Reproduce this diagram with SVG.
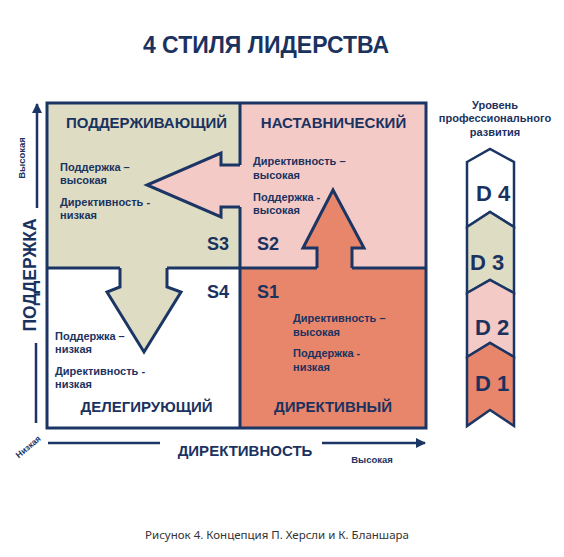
<svg xmlns="http://www.w3.org/2000/svg" width="564" height="557" viewBox="0 0 564 557">
<style>
text{font-family:"Liberation Sans",Arial,sans-serif;font-weight:bold;fill:#1b325f}
.t{font-size:11px}
.q{font-size:15px;text-anchor:middle}
.s{font-size:18px}
.d{font-size:22px;text-anchor:middle}
.h{font-size:11px;text-anchor:middle}
.ln{fill:none;stroke:#1b3564;stroke-width:3}
.arw{stroke:#1b3564;stroke-width:3;stroke-linejoin:miter}
.beige{fill:#deddc3}
.pink{fill:#f3cac6}
.salmon{fill:#e8866b}
.white{fill:#ffffff}
.ax{fill:none;stroke:#1b3564;stroke-width:2.5}
.dl{stroke:#1b3564;stroke-width:2.5;stroke-linejoin:miter}
</style>
<defs>
<marker id="ah" viewBox="0 0 10 10" refX="9" refY="5" markerWidth="4" markerHeight="4" orient="auto" markerUnits="strokeWidth">
<path d="M0,0 L10,5 L0,10 Z" fill="#1b3564"/>
</marker>
</defs>
<rect width="564" height="557" fill="#ffffff"/>
<text x="266" y="53" style="font-size:23px;text-anchor:middle">4 СТИЛЯ ЛИДЕРСТВА</text>

<g id="quadrant-s3">
<rect class="beige" x="47" y="103" width="193" height="165"/>
</g>
<g id="quadrant-s2">
<rect class="pink" x="240" y="103" width="185" height="165"/>
</g>
<g id="quadrant-s4">
<rect class="white" x="47" y="268" width="193" height="160"/>
</g>
<g id="quadrant-s1">
<rect class="salmon" x="240" y="268" width="186" height="160"/>
</g>

<g id="connectors">
<path class="pink arw" d="M240,165 H221 V153 L147,185 L221,217 V207 H240"/>
<path class="beige arw" d="M120,268 V287 L107,292 L144,352 L181,292 L167,287 V268"/>
<path class="salmon arw" d="M317,268 V248 H303 L333,190 L364,248 H352 V268"/>
<path class="ln" d="M240,103 V165 M240,207 V428 M47,268 H120 M167,268 H317 M352,268 H426"/>
<rect class="ln" x="47" y="103" width="379" height="325"/>
<path class="ax" d="M37,208 V104" marker-end="url(#ah)"/>
<path class="ax" d="M36,343 V423"/>
<path class="ax" d="M48,443 H160"/>
<path class="ax" d="M322,443 H425" marker-end="url(#ah)"/>
</g>

<g id="labels-s3">
<text class="q" x="146.5" y="128">ПОДДЕРЖИВАЮЩИЙ</text>
<text class="t" x="60" y="171">Поддержка –</text>
<text class="t" x="60" y="184">высокая</text>
<text class="t" x="60" y="206">Директивность -</text>
<text class="t" x="60" y="219">низкая</text>
<text class="s" x="207" y="250">S3</text>
</g>
<g id="labels-s2">
<text class="q" x="333.5" y="128">НАСТАВНИЧЕСКИЙ</text>
<text class="t" x="253" y="165">Директивность –</text>
<text class="t" x="253" y="179">высокая</text>
<text class="t" x="253" y="201">Поддержка -</text>
<text class="t" x="253" y="214">высокая</text>
<text class="s" x="257" y="250">S2</text>
</g>
<g id="labels-s4">
<text class="s" x="207" y="298">S4</text>
<text class="t" x="55" y="340">Поддержка –</text>
<text class="t" x="55" y="353">низкая</text>
<text class="t" x="55" y="375">Директивность -</text>
<text class="t" x="55" y="388">низкая</text>
<text class="q" x="146.5" y="412">ДЕЛЕГИРУЮЩИЙ</text>
</g>
<g id="labels-s1">
<text class="s" x="257" y="298">S1</text>
<text class="t" x="293" y="322">Директивность –</text>
<text class="t" x="293" y="336">высокая</text>
<text class="t" x="293" y="357">Поддержка -</text>
<text class="t" x="293" y="371">низкая</text>
<text class="q" x="333" y="412">ДИРЕКТИВНЫЙ</text>
</g>

<g id="axis-labels">
<text x="0" y="0" transform="translate(25,158) rotate(-90)" style="font-size:9.5px;text-anchor:middle">Высокая</text>
<text x="0" y="0" transform="translate(36,275) rotate(-90)" style="font-size:17.5px;text-anchor:middle">ПОДДЕРЖКА</text>
<text x="0" y="0" transform="translate(30,449) rotate(-40)" style="font-size:8.5px;text-anchor:middle">Низкая</text>
<text x="245" y="456" style="font-size:15px;text-anchor:middle">ДИРЕКТИВНОСТЬ</text>
<text x="372" y="463" style="font-size:9.5px;text-anchor:middle">Высокая</text>
</g>

<g id="development-levels">
<text class="h" x="495" y="109">Уровень</text>
<text class="h" x="495" y="122">профессионального</text>
<text class="h" x="495" y="136">развития</text>
<path class="white dl" d="M467,162 L490,149 L514,162 V227 L490,212 L467,227 Z"/>
<path class="beige dl" d="M467,227 L490,212 L514,227 V293 L490,280 L467,293 Z"/>
<path class="pink dl" d="M467,293 L490,280 L514,293 V357 L490,343 L467,357 Z"/>
<path class="salmon dl" d="M467,357 L490,343 L514,357 V426 L490,410 L467,426 Z"/>
<text class="d" x="493" y="201">D 4</text>
<text class="d" x="487" y="270">D 3</text>
<text class="d" x="492" y="335">D 2</text>
<text class="d" x="492" y="391">D 1</text>
</g>

<text x="277" y="539" style="font-family:'Noto Sans',sans-serif;font-weight:normal;font-size:11.5px;text-anchor:middle;fill:#333333">Рисунок 4. Концепция П. Херсли и К. Бланшара</text>
</svg>
